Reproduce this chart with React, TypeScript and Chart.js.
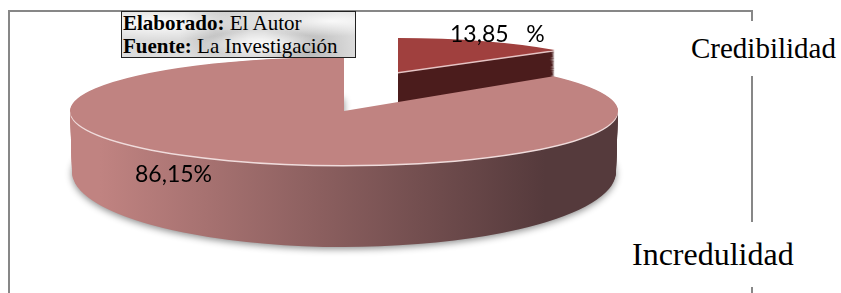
import React, { useEffect, useRef } from "react";
import { Chart, registerables } from "chart.js";

Chart.register(...registerables);

// ---- data ----
const categories = ["Credibilidad", "Incredulidad"];
const percentages = [13.85, 86.15];
const valueLabels = ["13,85   %", "86,15%"];
const sourceLines = [
  { bold: "Elaborado:", text: " El Autor" },
  { bold: "Fuente:", text: " La Investigación" },
];

// ---- styles / layout ----
const TOP_COLORS = ["#A0403E", "#C08381"];
const SIDE_COLORS = [
  ["#4B1C1C", "#4B1C1C"],
  ["#C08381", "#553A3C"],
];
const HIGHLIGHT = ["#E6C4C4", "#F0DCDC"];
const GEOM = [
  { cx: 398, cy: 72, rx: 205, ry: 34, depth: 40, dry: 6, drx: 0 },
  { cx: 344, cy: 111, rx: 274, ry: 54, depth: 61, dry: 21, drx: -2 },
];
const GRAD_X = [100, 545];
const LABEL_POS = [
  { x: 450, y: 42 },
  { x: 135, y: 182 },
];

const pie3d = {
  id: "pie3d",
  beforeDatasetsDraw(chart: any) {
    const ctx: CanvasRenderingContext2D = chart.ctx;
    const meta = chart.getDatasetMeta(0);

    // frame
    ctx.save();
    ctx.setTransform(1, 0, 0, 1, 0, 0);
    ctx.strokeStyle = "#878787";
    ctx.lineWidth = 2;
    ctx.strokeRect(9, 11, 743, 300);
    ctx.restore();

    for (let i = 0; i < meta.data.length; i++) {
      const el = meta.data[i];
      const g = GEOM[i];
      const R = el.outerRadius;
      const setT = (cx: number, cy: number, rx: number, ry: number) => {
        const a = rx / R;
        const d = ry / R;
        const e = cx - el.x * a;
        ctx.setTransform(a, 0, 0, d, e, cy - el.y * d);
        return { a, e };
      };
      const drawWith = (fill: any) => {
        const fake = Object.create(el);
        fake.options = Object.assign({}, el.options, {
          backgroundColor: fill,
          borderWidth: 0,
          offset: 0,
        });
        el.draw.call(fake, ctx);
      };
      ctx.save();
      for (let s = g.depth; s >= 1; s--) {
        const k = s / g.depth;
        const { a, e } = setT(g.cx, g.cy + s, g.rx + g.drx * k, g.ry + g.dry * k);
        const grad = ctx.createLinearGradient((GRAD_X[0] - e) / a, 0, (GRAD_X[1] - e) / a, 0);
        grad.addColorStop(0, SIDE_COLORS[i][0]);
        grad.addColorStop(1, SIDE_COLORS[i][1]);
        if (s === g.depth && i === 1) {
          ctx.shadowColor = "rgba(0,0,0,0.45)";
          ctx.shadowBlur = 7;
          ctx.shadowOffsetX = 0;
          ctx.shadowOffsetY = 2;
        } else {
          ctx.shadowColor = "rgba(0,0,0,0)";
          ctx.shadowBlur = 0;
          ctx.shadowOffsetY = 0;
        }
        drawWith(grad);
      }
      ctx.shadowColor = "rgba(0,0,0,0)";
      ctx.shadowBlur = 0;
      setT(g.cx, g.cy + 1.5, g.rx, g.ry);
      drawWith(HIGHLIGHT[i]);
      setT(g.cx, g.cy, g.rx, g.ry);
      drawWith(TOP_COLORS[i]);
      ctx.restore();
    }

    // value labels
    ctx.save();
    ctx.setTransform(1, 0, 0, 1, 0, 0);
    ctx.font = '23px Lato';
    ctx.fillStyle = "#000";
    ctx.textBaseline = "alphabetic";
    ctx.textAlign = "left";
    for (let i = 0; i < valueLabels.length; i++) {
      ctx.fillText(valueLabels[i], LABEL_POS[i].x, LABEL_POS[i].y);
    }
    ctx.restore();
    return false;
  },
};

export default function App() {
  const ref = useRef<HTMLCanvasElement | null>(null);
  useEffect(() => {
    if (!ref.current) return;
    const chart = new Chart(ref.current, {
      type: "pie",
      data: {
        labels: categories,
        datasets: [
          {
            data: percentages,
            backgroundColor: TOP_COLORS,
            borderWidth: 0,
          },
        ],
      },
      options: {
        responsive: false,
        animation: false,
        events: [],
        plugins: {
          legend: { display: false },
          tooltip: { enabled: false },
        },
      },
      plugins: [pie3d],
    });
    return () => chart.destroy();
  }, []);

  const serif = '"Liberation Serif", "Times New Roman", serif';
  return (
    <div style={{ position: "fixed", left: 0, top: 0, width: 841, height: 293, background: "#fff", overflow: "hidden" }}>
      <canvas ref={ref} width={841} height={293} style={{ position: "absolute", left: 0, top: 0, display: "block" }} />
      <div
        style={{
          position: "absolute",
          left: 121,
          top: 11,
          width: 235,
          height: 47,
          boxSizing: "border-box",
          border: "1px solid #222",
          padding: "0 0 0 1px",
          fontFamily: serif,
          fontSize: 21,
          lineHeight: "23px",
          color: "#000",
          whiteSpace: "nowrap",
          background:
            "radial-gradient(ellipse at 15% 25%, rgba(255,255,255,0.95), rgba(255,255,255,0) 35%), radial-gradient(ellipse at 60% 70%, rgba(255,255,255,0.9), rgba(255,255,255,0) 30%), radial-gradient(ellipse at 90% 20%, rgba(255,255,255,0.85), rgba(255,255,255,0) 30%), radial-gradient(circle at 40% 40%, rgba(160,160,160,0.5), rgba(160,160,160,0) 25%), radial-gradient(circle at 80% 85%, rgba(150,150,150,0.5), rgba(150,150,150,0) 25%), #dcdcdc",
        }}
      >
        {sourceLines.map((l, i) => (
          <div key={i}>
            <b>{l.bold}</b>
            {l.text}
          </div>
        ))}
      </div>
      <div
        style={{
          position: "absolute",
          left: 687,
          top: 21,
          height: 55,
          lineHeight: "55px",
          background: "#fff",
          fontFamily: serif,
          fontSize: 29,
          padding: "0 4px",
          whiteSpace: "nowrap",
          color: "#000",
        }}
      >
        {categories[0]}
      </div>
      <div
        style={{
          position: "absolute",
          left: 628,
          top: 222,
          height: 65,
          lineHeight: "65px",
          background: "#fff",
          fontFamily: serif,
          fontSize: 32,
          padding: "0 4px",
          whiteSpace: "nowrap",
          color: "#000",
        }}
      >
        {categories[1]}
      </div>
    </div>
  );
}
